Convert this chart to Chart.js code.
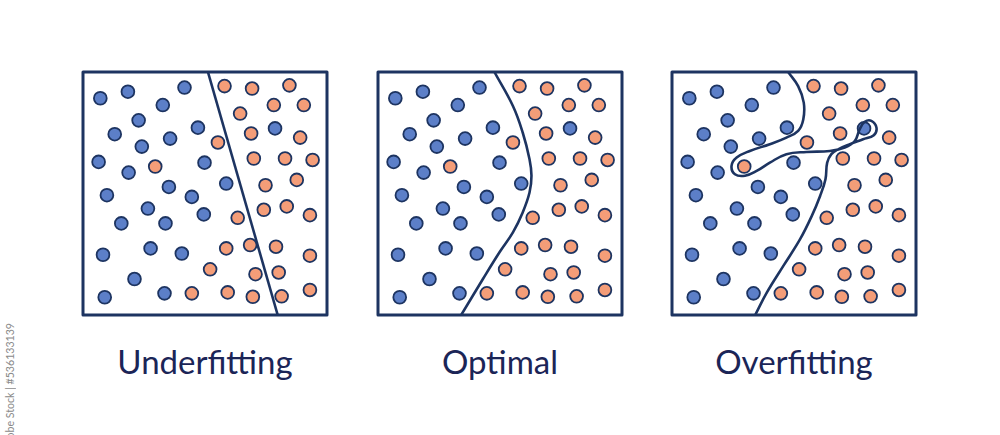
<!DOCTYPE html>
<html>
<head>
<meta charset="utf-8">
<script src="https://cdn.jsdelivr.net/npm/chart.js@4/dist/chart.umd.min.js"></script>
<style>
  html, body { margin: 0; padding: 0; background: #fff; overflow: hidden; }
  body { width: 1000px; height: 435px; position: relative; font-family: Lato, "Open Sans", sans-serif; }
  .panel { position: absolute; top: 70px; width: 248px; height: 247px; }
  .label { position: absolute; top: 345px; width: 300px; text-align: center;
           font-size: 33px; line-height: 32px; color: #1b2557; }
  .stock { position: absolute; left: 4px; top: 323px; font-size: 10.6px; color: #8a8a8a;
           writing-mode: vertical-rl; transform: rotate(180deg); white-space: nowrap; }
</style>
</head>
<body>
<div class="panel" style="left:81px"><canvas id="under"></canvas></div>
<div class="panel" style="left:376px"><canvas id="optimal"></canvas></div>
<div class="panel" style="left:670px"><canvas id="over"></canvas></div>
<div class="label" style="left:55px">Underfitting</div>
<div class="label" style="left:350px">Optimal</div>
<div class="label" style="left:644px">Overfitting</div>
<div class="stock">Adobe Stock | #536133139</div>
<script>
// same samples in every panel (x, y on a 0-100 grid)
const blueX = [7.1, 18.4, 41.6, 32.7, 22.8, 13.0, 24.1, 35.7, 47.1, 6.4, 18.7, 49.8, 35.2, 9.8,
  44.6, 26.6, 49.5, 15.7, 33.8, 58.7, 78.7, 8.2, 27.7, 40.5, 21.1, 8.9, 33.4];
const blueY = [89.2, 91.9, 93.6, 86.4, 80.1, 74.4, 69.3, 72.6, 77.1, 63.0, 58.6, 62.7, 52.7, 49.3,
  48.6, 43.8, 41.4, 37.7, 37.7, 54.1, 76.8, 24.8, 27.4, 25.3, 14.8, 7.3, 8.9];
const orangeX = [58.0, 69.3, 84.6, 78.2, 90.5, 64.4, 68.9, 89.0, 55.3, 29.6, 70.0, 82.8, 94.1, 87.6,
  74.8, 74.1, 83.5, 93.0, 63.4, 58.7, 68.5, 79.1, 93.0, 52.1, 70.7, 80.2, 44.6, 59.3, 69.6, 81.4, 93.0];
const orangeY = [94.2, 93.2, 94.5, 86.4, 86.4, 82.9, 74.7, 73.0, 71.0, 61.1, 64.4, 64.4, 63.8, 55.6,
  53.4, 43.3, 44.7, 41.1, 40.0, 27.4, 28.8, 28.1, 24.4, 18.8, 16.8, 17.5, 8.9, 9.3, 7.5, 7.7, 10.3];

// decision boundaries
const underX = [51.2, 79.8];
const underY = [100, 0];
const optimalX = [47.7, 55.3, 59.3, 62.1, 62.9, 62.1, 59.3, 55.3, 49.8, 43.0, 34.1];
const optimalY = [100, 86.0, 75.1, 64.1, 57.3, 50.4, 42.2, 34.0, 25.8, 14.8, 0];
const overX = [47.6, 51.7, 54.0, 53.8, 51.7, 46.9, 40.1, 31.9, 26.5, 24.4, 25.8, 29.9, 34.7, 40.1,
  46.9, 55.1, 64.7, 70.8, 74.9, 76.9, 79.0, 81.7, 83.8, 82.7, 78.3, 72.9, 68.1, 65.3, 63.6, 62.9,
  60.7, 57.3, 52.5, 45.7, 38.9, 34.1];
const overY = [100, 94.2, 87.4, 80.5, 75.8, 73.0, 70.3, 67.5, 64.8, 61.4, 57.9, 57.3, 59.3, 62.7,
  66.2, 67.1, 67.5, 68.9, 71.6, 76.4, 79.5, 79.9, 77.1, 74.0, 72.3, 70.3, 68.2, 66.2, 62.7, 55.9,
  49.0, 40.8, 31.2, 20.3, 9.3, 0];

const navy = '#1d3461';
const pts = (xs, ys) => xs.map((x, i) => ({ x: x, y: ys[i] }));

const boxPlugin = {
  id: 'box',
  afterDraw(chart) {
    const { ctx, chartArea: a } = chart;
    ctx.save();
    ctx.strokeStyle = navy;
    ctx.lineWidth = 3;
    ctx.lineJoin = 'round';
    ctx.strokeRect(a.left, a.top, a.right - a.left, a.bottom - a.top);
    ctx.restore();
  }
};

function drawPanel(id, lineX, lineY, tension) {
  new Chart(document.getElementById(id), {
    type: 'scatter',
    data: {
      datasets: [
        {
          label: 'boundary',
          data: pts(lineX, lineY),
          showLine: true,
          borderColor: navy,
          borderWidth: 2.6,
          pointRadius: 0,
          tension: tension,
          fill: false
        },
        {
          label: 'blue',
          data: pts(blueX, blueY),
          backgroundColor: '#5c7fc8',
          borderColor: navy,
          borderWidth: 1.8,
          pointRadius: 6.4
        },
        {
          label: 'orange',
          data: pts(orangeX, orangeY),
          backgroundColor: '#f49d78',
          borderColor: navy,
          borderWidth: 1.8,
          pointRadius: 6.4
        }
      ]
    },
    options: {
      responsive: true,
      maintainAspectRatio: false,
      animation: false,
      layout: { padding: 2, autoPadding: false },
      plugins: { legend: { display: false }, tooltip: { enabled: false } },
      scales: {
        x: { display: false, min: 0, max: 100 },
        y: { display: false, min: 0, max: 100 }
      }
    },
    plugins: [boxPlugin]
  });
}

drawPanel('under', underX, underY, 0);
drawPanel('optimal', optimalX, optimalY, 0.4);
drawPanel('over', overX, overY, 0.4);
</script>
</body>
</html>
